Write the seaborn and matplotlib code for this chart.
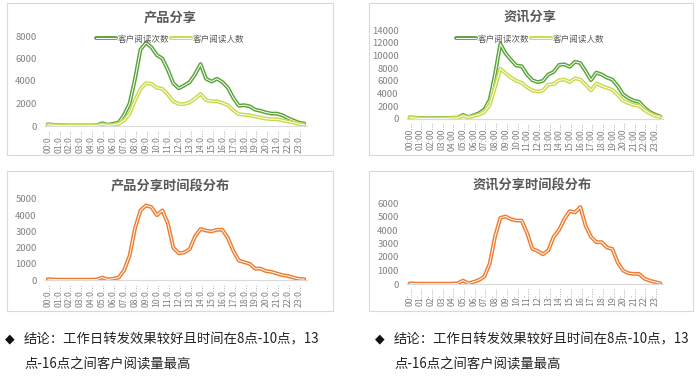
import seaborn as sns
import pandas as pd
import matplotlib.pyplot as plt
import matplotlib.patheffects as pe
from matplotlib.patches import Rectangle

# half-hour slots 00:00 .. 23:30
slots = list(range(48))
hours = ['%02d' % h for h in range(24)]

prod_cnt = [150, 100, 60, 50, 40, 40, 40, 40, 40, 60, 250, 100, 200, 300, 1000, 2000,
            4200, 6800, 7400, 7000, 6300, 6000, 5000, 3800, 3350, 3600, 3900, 4600, 5500, 4200,
            3950, 4200, 3900, 3400, 2500, 1800, 1850, 1750, 1450, 1350, 1200, 1100, 1100, 950,
            700, 500, 300, 220]
prod_ppl = [100, 70, 40, 30, 30, 30, 30, 30, 30, 40, 150, 60, 100, 200, 500, 1100,
            2300, 3300, 3800, 3750, 3400, 3300, 2800, 2200, 1950, 1950, 2100, 2450, 2850, 2300,
            2200, 2200, 2050, 1850, 1400, 1050, 1000, 950, 850, 750, 650, 600, 600, 500,
            400, 300, 180, 100]
news_cnt = [250, 200, 150, 120, 100, 120, 150, 150, 200, 200, 650, 300, 600, 900, 1500, 3000,
            7000, 11800, 10300, 9300, 8400, 8300, 7000, 6100, 5800, 6000, 7000, 7400, 8500, 8600,
            8200, 9000, 8800, 7500, 6100, 7300, 7000, 6500, 6200, 5200, 3900, 3300, 2900, 2700,
            1800, 1100, 700, 400]
news_ppl = [200, 150, 100, 80, 70, 80, 100, 100, 150, 150, 500, 250, 450, 700, 1100, 2200,
            5000, 7900, 7200, 6500, 6000, 5700, 5000, 4500, 4300, 4500, 5400, 5500, 6100, 6200,
            5800, 6400, 6200, 5400, 4500, 5600, 5200, 4900, 4600, 3800, 2900, 2500, 2200, 2100,
            1400, 900, 500, 300]
prod_dist = [50, 30, 20, 20, 20, 20, 20, 20, 20, 30, 150, 30, 80, 150, 600, 1500,
             3200, 4300, 4600, 4500, 4000, 4300, 3500, 2000, 1650, 1700, 1900, 2700, 3150, 3050,
             3000, 3100, 3100, 2600, 1800, 1200, 1100, 1000, 700, 700, 550, 500, 400, 300,
             250, 150, 70, 50]
news_dist = [50, 30, 20, 20, 20, 20, 20, 20, 30, 50, 250, 50, 150, 300, 550, 1500,
             3500, 4900, 5000, 4800, 4700, 4700, 3800, 2600, 2450, 2200, 2500, 3500, 4000, 4800,
             5400, 5300, 5700, 4300, 3500, 3100, 3100, 2700, 2600, 1600, 1000, 800, 750, 750,
             400, 250, 150, 50]

titles = ['产品分享', '资讯分享', '产品分享时间段分布', '资讯分享时间段分布']
series_names = ['客户阅读次数', '客户阅读人数']
conclusion = ['结论：工作日转发效果较好且时间在8点-10点，13', '点-16点之间客户阅读量最高']

GREEN = '#5BA33B'
LIME = '#C9DA4A'
ORANGE = '#ED7D31'
GRAY = '#808080'

sns.set_style('white')
plt.rcParams['font.family'] = ['Noto Sans CJK SC', 'DejaVu Sans']

W, H = 700, 385
fig = plt.figure(figsize=(7, 3.85), dpi=100)


def px_axes(l, t, r, b):
    return fig.add_axes([l / W, 1 - b / H, (r - l) / W, (b - t) / H])


def draw(ax, y, color, label=None):
    sns.lineplot(x=slots, y=y, ax=ax, color='white', lw=0.7, label=label,
                 path_effects=[pe.Stroke(linewidth=2.8, foreground=color), pe.Normal()])


def style(ax, ymax, step, suffix):
    ax.set_xlim(-0.5, 47.5)
    ax.set_ylim(0, ymax)
    ax.set_yticks(range(0, ymax + 1, step))
    ax.set_xticks(slots[::2])
    ax.set_xticklabels([h + suffix for h in hours], rotation=90, fontsize=6.3, color=GRAY)
    ax.tick_params(axis='y', labelsize=6.8, colors=GRAY, length=0, pad=6)
    ax.tick_params(axis='x', length=0, pad=2)
    for s in ['top', 'left', 'right']:
        ax.spines[s].set_visible(False)
    ax.spines['bottom'].set_color('#D9D9D9')
    ax.spines['bottom'].set_linewidth(0.8)
    ax.set_xlabel('')
    ax.set_ylabel('')


# panel frames
for (l, t, r, b) in [(7, 3, 333, 155), (369, 3, 693, 155), (7, 171, 333, 311), (369, 171, 693, 311)]:
    fig.add_artist(Rectangle((l / W, 1 - b / H), (r - l) / W, (b - t) / H, transform=fig.transFigure,
                             fill=False, edgecolor='#D9D9D9', lw=0.8))

# 产品分享
ax1 = px_axes(45, 36, 307, 126)
draw(ax1, prod_cnt, GREEN, series_names[0])
draw(ax1, prod_ppl, LIME, series_names[1])
style(ax1, 8000, 2000, ':0...')

# 资讯分享
ax2 = px_axes(407, 30, 663, 119)
draw(ax2, news_cnt, GREEN, series_names[0])
draw(ax2, news_ppl, LIME, series_names[1])
style(ax2, 14000, 2000, ':00...')

# 产品分享时间段分布
ax3 = px_axes(45, 199, 307, 280)
draw(ax3, prod_dist, ORANGE)
style(ax3, 5000, 1000, ':0...')

# 资讯分享时间段分布
ax4 = px_axes(407, 203, 663, 284)
draw(ax4, news_dist, ORANGE)
style(ax4, 6000, 1000, ':...')

for ax, cx in [(ax1, 170), (ax2, 530)]:
    ax.legend(loc='center', bbox_to_anchor=(cx / W, 1 - 39 / H), bbox_transform=fig.transFigure,
              ncol=2, frameon=False, fontsize=6.2, handlelength=2.3, handletextpad=0.2,
              columnspacing=0.2, labelcolor='#595959', borderpad=0)

for title, cx, cy in zip(titles, [170, 530, 170, 532], [17, 17, 186, 186]):
    fig.text(cx / W, 1 - cy / H, title, ha='center', va='center', fontsize=9.5,
             fontweight='bold', color='#595959')

# conclusions under each bottom panel
for x0 in [10, 380]:
    fig.text(x0 / W, 1 - 339 / H, '◆', ha='center', va='center', fontsize=9, color='#111111',
             family=['DejaVu Sans'])
    fig.text((x0 + 14) / W, 1 - 339 / H, conclusion[0], ha='left', va='center', fontsize=9.6,
             color='#222222')
    fig.text((x0 + 14) / W, 1 - 365 / H, conclusion[1], ha='left', va='center', fontsize=9.6,
             color='#222222')

plt.savefig('out.png', dpi=100)
